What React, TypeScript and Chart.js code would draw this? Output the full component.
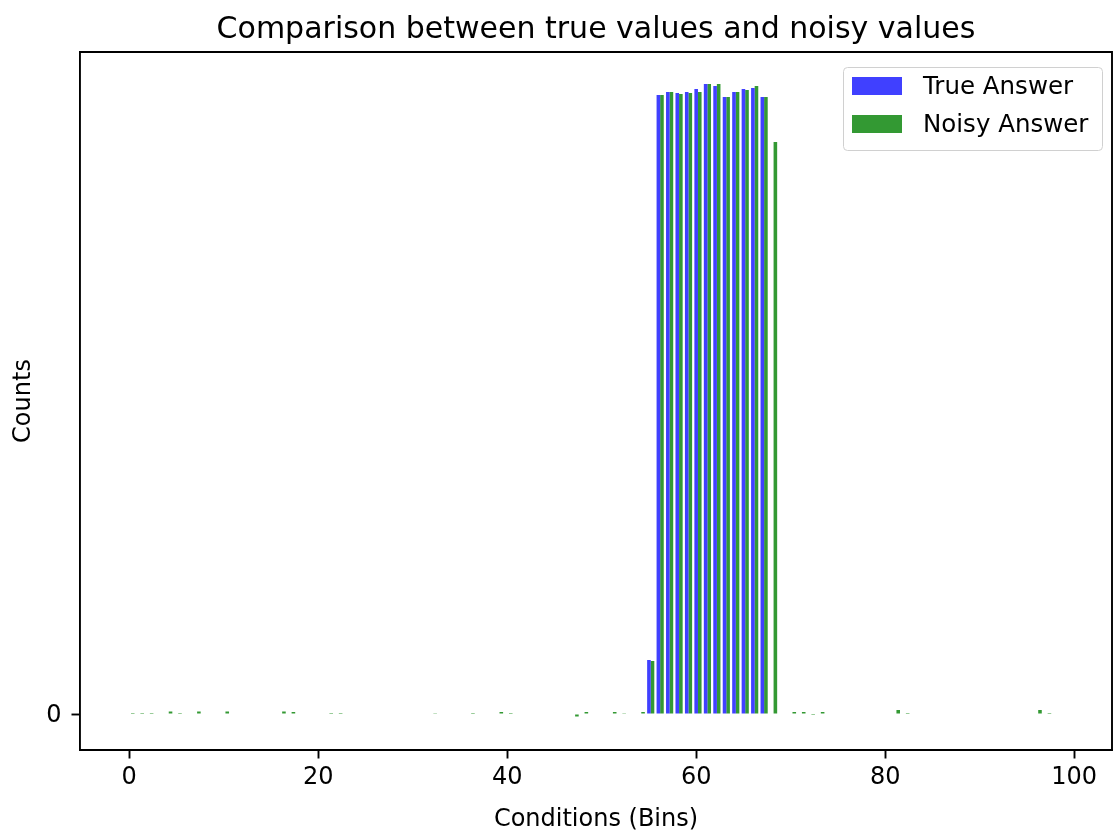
import React, { useEffect, useRef } from 'react';
import { Chart, registerables } from 'chart.js';

Chart.register(...registerables);

const FONT = 'DejaVu Sans';

const bins: number[] = Array.from({ length: 100 }, (_, i) => i);

const trueValues: number[] = [
  0, 0, 0, 0, 0, 0, 0, 0, 0, 0,
  0, 0, 0, 0, 0, 0, 0, 0, 0, 0,
  0, 0, 0, 0, 0, 0, 0, 0, 0, 0,
  0, 0, 0, 0, 0, 0, 0, 0, 0, 0,
  0, 0, 0, 0, 0, 0, 0, 0, 0, 0,
  0, 0, 0, 0, 0, 540, 6190, 6220, 6210, 6220,
  6250, 6300, 6280, 6170, 6220, 6250, 6260, 6170, 0, 0,
  0, 0, 0, 0, 0, 0, 0, 0, 0, 0,
  0, 0, 0, 0, 0, 0, 0, 0, 0, 0,
  0, 0, 0, 0, 0, 0, 0, 0, 0, 0,
];

const noisyValues: number[] = [
  10, 10, 10, 0, 25, 10, 0, 25, 0, 0,
  25, 0, 0, 0, 0, 0, 25, 20, 0, 0,
  0, 10, 10, 0, 0, 0, 0, 0, 0, 0,
  0, 0, 8, 0, 0, 0, 10, 0, 0, 20,
  10, 0, 0, 0, 0, 0, 0, -25, 20, 0,
  0, 20, 8, 0, 20, 530, 6190, 6220, 6200, 6210,
  6220, 6300, 6300, 6170, 6220, 6240, 6280, 6170, 5720, 0,
  20, 20, -10, 20, 0, 0, 0, 0, 0, 0,
  0, 40, 10, 0, 0, 0, 0, 0, 0, 0,
  0, 0, 0, 0, 0, 0, 40, 10, 0, 0,
];

const xTicks: number[] = [0, 20, 40, 60, 80, 100];
const yTicks: number[] = [0];

const seriesLabels = ['True Answer', 'Noisy Answer'];
const seriesColors = ['rgba(0,0,255,0.75)', 'rgba(0,128,0,0.8)'];

const framePlugin = {
  id: 'frameAndLegend',
  afterDraw(chart: any) {
    const { ctx, chartArea } = chart;
    ctx.save();
    ctx.strokeStyle = '#000';
    ctx.lineWidth = 1.9;
    ctx.beginPath();
    ctx.moveTo(chartArea.left, chartArea.top);
    ctx.lineTo(chartArea.right, chartArea.top);
    ctx.lineTo(chartArea.right, chartArea.bottom);
    ctx.stroke();

    const bx = 843.5, by = 67.5, bw = 259, bh = 83, r = 4;
    ctx.beginPath();
    ctx.moveTo(bx + r, by);
    ctx.lineTo(bx + bw - r, by);
    ctx.quadraticCurveTo(bx + bw, by, bx + bw, by + r);
    ctx.lineTo(bx + bw, by + bh - r);
    ctx.quadraticCurveTo(bx + bw, by + bh, bx + bw - r, by + bh);
    ctx.lineTo(bx + r, by + bh);
    ctx.quadraticCurveTo(bx, by + bh, bx, by + bh - r);
    ctx.lineTo(bx, by + r);
    ctx.quadraticCurveTo(bx, by, bx + r, by);
    ctx.closePath();
    ctx.fillStyle = 'rgba(255,255,255,0.8)';
    ctx.fill();
    ctx.strokeStyle = '#d0d0d0';
    ctx.lineWidth = 1;
    ctx.stroke();

    chart.data.datasets.forEach((ds: any, i: number) => {
      const y = 77 + i * 38;
      ctx.fillStyle = ds.backgroundColor;
      ctx.fillRect(852, y, 50, 18);
      ctx.fillStyle = '#000';
      ctx.font = `24.5px "${FONT}"`;
      ctx.textAlign = 'left';
      ctx.textBaseline = 'middle';
      ctx.fillText(ds.label, 923, y + 11);
    });
    ctx.restore();
  },
};

export default function App() {
  const ref = useRef<HTMLCanvasElement | null>(null);

  useEffect(() => {
    document.body.style.margin = '0';
    const canvas = ref.current;
    if (!canvas) return;
    const datasets = [trueValues, noisyValues].map((vals, k) => ({
      label: seriesLabels[k],
      data: bins.map((b, i) => ({ x: b + 0.19, y: vals[i] })),
      backgroundColor: seriesColors[k],
      borderWidth: 0,
      categoryPercentage: 0.76,
      barPercentage: 1,
    }));
    const chart = new Chart(canvas, {
      type: 'bar',
      data: { datasets } as any,
      plugins: [framePlugin],
      options: {
        animation: false,
        responsive: false,
        devicePixelRatio: 1,
        layout: { padding: { left: 0, right: 1, top: 0, bottom: 0 } },
        plugins: {
          legend: { display: false },
          tooltip: { enabled: false },
          title: {
            display: true,
            fullSize: false,
            text: 'Comparison between true values and noisy values',
            color: '#000',
            font: { family: FONT, size: 30, weight: 'normal' },
            padding: { top: 12, bottom: 4 },
          },
        },
        scales: {
          x: {
            type: 'linear',
            min: -5.2,
            max: 104,
            offset: false,
            afterBuildTicks: (s: any) => {
              s.ticks = xTicks.map((v) => ({ value: v }));
            },
            afterFit: (s: any) => {
              s.height = 84;
            },
            ticks: {
              color: '#000',
              font: { family: FONT, size: 24 },
              padding: 5,
              maxRotation: 0,
              autoSkip: false,
            },
            grid: {
              display: true,
              offset: false,
              drawOnChartArea: false,
              drawTicks: true,
              tickLength: 8.5,
              tickWidth: 1.9,
              tickColor: '#000',
            },
            border: { display: true, color: '#000', width: 1.9 },
            title: {
              display: true,
              text: 'Conditions (Bins)',
              color: '#000',
              font: { family: FONT, size: 24 },
              padding: { top: 8, bottom: 0 },
            },
          },
          y: {
            type: 'linear',
            min: -360,
            max: 6620,
            afterBuildTicks: (s: any) => {
              s.ticks = yTicks.map((v) => ({ value: v }));
            },
            afterFit: (s: any) => {
              s.width = 80;
            },
            ticks: {
              color: '#000',
              font: { family: FONT, size: 24 },
              padding: 10,
              labelOffset: 2,
            },
            grid: {
              display: true,
              drawOnChartArea: false,
              drawTicks: true,
              tickLength: 8.5,
              tickWidth: 1.9,
              tickColor: '#000',
            },
            border: { display: true, color: '#000', width: 1.9 },
            title: {
              display: true,
              text: 'Counts',
              color: '#000',
              font: { family: FONT, size: 24 },
              padding: { top: 9, bottom: 0 },
            },
          },
        },
      } as any,
    });
    return () => chart.destroy();
  }, []);

  return (
    <div style={{ position: 'absolute', left: 0, top: 0, width: 1113, height: 834 }}>
      <canvas ref={ref} width={1113} height={834} style={{ display: 'block' }} />
    </div>
  );
}
